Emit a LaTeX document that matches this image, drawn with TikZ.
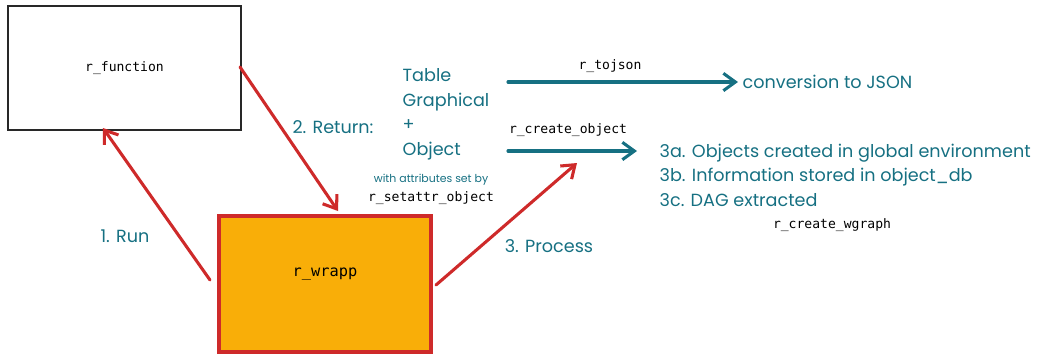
\documentclass[tikz,border=0pt]{standalone}
\usepackage{fontspec}
\setmainfont{Poppins}
\setmonofont{DejaVu Sans Mono}
\usetikzlibrary{arrows.meta,positioning}

\definecolor{tealink}{RGB}{22,112,130}
\definecolor{redink}{RGB}{206,42,42}
\definecolor{ambfill}{RGB}{249,174,8}
\definecolor{boxline}{RGB}{40,40,40}

\tikzset{
  hand/.style={text=tealink, font=\fontsize{13.2}{18.4}\selectfont},
  small hand/.style={text=tealink, font=\fontsize{8.2}{9}\selectfont},
  func/.style={font=\ttfamily\fontsize{9.8}{11}\selectfont},
  redarrow/.style={draw=redink, line width=2.3pt, line cap=round,
    -{Straight Barb[length=9pt,width=13pt,line width=2.3pt]}},
  tealarrow/.style={draw=tealink, line width=2.3pt, line cap=round,
    -{Straight Barb[length=9pt,width=13pt,line width=2.3pt]}},
}

\begin{document}
\begin{tikzpicture}[x=0.75pt, y=-0.75pt]
\useasboundingbox (0,0) rectangle (1057,355);

% the two boxes
\draw [boxline, line width=1.2pt] (8,6) rectangle (241,130);
\node [func] (fn) at (124.5,68) {r\_function};

\draw [redink, fill=ambfill, line width=2.4pt] (219,216) rectangle (431,352);
\node [func, font=\ttfamily\fontsize{11.5}{13}\selectfont] (wrapp) at (325,274) {r\_wrapp};

\coordinate (fn_east) at (240,67);
\coordinate (fn_low) at (103,128);
\coordinate (wr_top) at (338,211);
\coordinate (wr_left) at (210,280);
\coordinate (wr_right) at (436,285);
\coordinate (proc_end) at (577,163);

% returned things
\node [hand, align=left, anchor=north west] (ret) at (398,64)
  {Table\\Graphical\\+\\Object};
\node [small hand] (attr) at (431,180) {with attributes set by};
\node [func] (setattr) at (431,198) {r\_setattr\_object};

% step labels
\node [hand] (run) at (125,236) {1. Run};
\node [hand] (retlab) at (333,127) {2. Return:};
\node [hand] (proc) at (549,246) {3. Process};

% outputs
\coordinate (json_start) at (508,82);
\node [hand, anchor=west] (json) at (738,82) {conversion to JSON};
\node [func] (tojson) at (610,66) {r\_tojson};

\coordinate (obj_start) at (508,151);
\coordinate (obj_end) at (637,151);
\node [func] (createobj) at (568,130) {r\_create\_object};
\node [hand, align=left, anchor=north west] (steps) at (655,139)
  {3a. Objects created in global environment\\
   3b. Information stored in object\_db\\
   3c. DAG extracted};
\node [func] (wgraph) at (832,225) {r\_create\_wgraph};

\draw [redarrow] (wr_left) -- (fn_low);
\draw [redarrow] (fn_east) -- (wr_top);
\draw [redarrow] (wr_right) -- (proc_end);
\draw [tealarrow] (json_start) -- (json.west);
\draw [tealarrow] (obj_start) -- (obj_end);
\end{tikzpicture}
\end{document}
